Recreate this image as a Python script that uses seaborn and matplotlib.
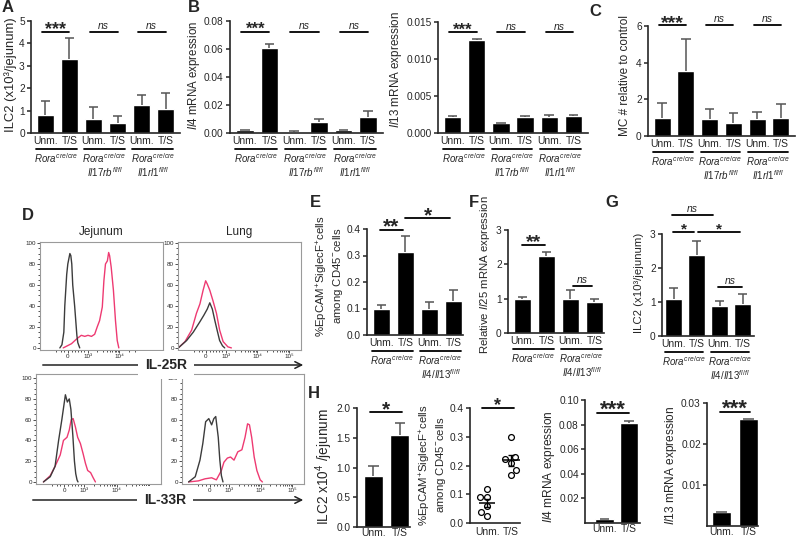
import numpy as np
import pandas as pd
import seaborn as sns
import matplotlib
matplotlib.use("Agg")
import matplotlib.pyplot as plt
from matplotlib.ticker import MultipleLocator, FixedLocator

sns.set_style("ticks")
plt.rcParams["font.family"] = ["Liberation Sans", "DejaVu Sans"]
plt.rcParams["mathtext.fontset"] = "custom"
plt.rcParams["mathtext.rm"] = "Liberation Sans"
plt.rcParams["mathtext.it"] = "Liberation Sans:italic"
plt.rcParams["mathtext.bf"] = "Liberation Sans:bold"

# ---- donnees ----
cond6 = ["Unm.", "T/S", "Unm.", "T/S", "Unm.", "T/S"]
cond4 = cond6[:4]
cond2 = cond6[:2]

a_mean = [0.8, 3.3, 0.62, 0.45, 1.25, 1.05]
a_top = [1.45, 4.25, 1.15, 0.78, 1.68, 1.78]
b_il4_mean = [0.002, 0.061, 0.001, 0.0078, 0.002, 0.0115]
b_il4_top = [0.0024, 0.0635, 0.0013, 0.0099, 0.0023, 0.0155]
b_il13_mean = [0.0022, 0.0126, 0.0013, 0.0022, 0.0022, 0.0023]
b_il13_top = [0.0023, 0.0127, 0.0014, 0.0023, 0.0024, 0.0025]
c_mean = [1.0, 3.55, 0.95, 0.72, 0.95, 1.0]
c_top = [1.8, 5.3, 1.5, 1.28, 1.32, 1.75]
e_mean = [0.1, 0.315, 0.1, 0.13]
e_top = [0.115, 0.375, 0.125, 0.168]
f_mean = [1.0, 2.25, 1.0, 0.9]
f_top = [1.05, 2.35, 1.25, 0.98]
g_mean = [1.1, 2.38, 0.88, 0.93]
g_top = [1.4, 2.8, 1.03, 1.25]
h_ilc2_mean = [0.86, 1.54]
h_ilc2_top = [1.03, 1.75]
h_epcam_unm = [0.025, 0.04, 0.058, 0.089, 0.092, 0.118]
h_epcam_ts = [0.167, 0.185, 0.207, 0.222, 0.228, 0.30]
h_il4_mean = [0.003, 0.081]
h_il4_top = [0.0035, 0.083]
h_il13_mean = [0.0033, 0.026]
h_il13_top = [0.0034, 0.0262]

# histogrammes (x en decades d'affichage, y en % du max)
jej25_black_x = [2.125, 2.19, 2.25, 2.28, 2.34, 2.375, 2.44, 2.47, 2.5, 2.53, 2.59, 2.66, 2.69, 2.75]
jej25_black_y = [0, 3, 15, 40, 70, 80, 90, 88, 80, 60, 40, 12, 5, 0]
jej25_red_x = [2.23, 2.49, 2.67, 2.80, 2.91, 3.01, 3.12, 3.22, 3.30, 3.375, 3.46, 3.51, 3.56, 3.62,
               3.66, 3.69, 3.74, 3.81, 3.875, 3.93, 3.98]
jej25_red_y = [0, 4, 9, 12, 11, 12, 11, 13, 20, 26, 39, 64, 80, 83, 91, 88, 77, 55, 26, 7, 0]
lung25_black_x = [1.51, 1.77, 1.98, 2.19, 2.31, 2.42, 2.5, 2.58, 2.66, 2.73, 2.81, 2.90, 2.97]
lung25_black_y = [0, 7, 15, 25, 31, 37, 43, 37, 26, 17, 7, 2, 0]
lung25_red_x = [1.51, 1.72, 1.93, 2.08, 2.19, 2.29, 2.37, 2.42, 2.5, 2.60, 2.71, 2.81, 2.92, 3.07, 3.18]
lung25_red_y = [0, 6, 17, 33, 42, 55, 64, 61, 55, 45, 33, 17, 6, 1, 0]
jej33_black_x = [1.73, 1.94, 2.09, 2.20, 2.30, 2.41, 2.47, 2.53, 2.58, 2.64, 2.69, 2.73, 2.77, 2.80]
jej33_black_y = [0, 5, 15, 40, 60, 84, 77, 80, 70, 45, 20, 8, 2, 0]
jej33_red_x = [1.73, 1.94, 2.09, 2.25, 2.35, 2.46, 2.53, 2.59, 2.65, 2.72, 2.79, 2.875, 2.96, 3.03,
               3.10, 3.19, 3.27, 3.34]
jej33_red_y = [0, 6, 15, 26, 40, 43, 50, 60, 61, 53, 43, 37, 27, 18, 11, 9, 4, 0]
lung33_black_x = [1.71, 1.92, 2.07, 2.16, 2.25, 2.35, 2.44, 2.51, 2.57, 2.65, 2.70, 2.75, 2.80]
lung33_black_y = [0, 5, 21, 37, 58, 61, 55, 61, 63, 43, 21, 6, 0]
lung33_red_x = [1.71, 2.02, 2.23, 2.44, 2.59, 2.75, 2.83, 2.94, 3.04, 3.15, 3.27, 3.40, 3.5, 3.58,
                3.64, 3.71, 3.79, 3.875, 3.98, 4.05]
lung33_red_y = [0, 1, 3, 4, 2, 11, 19, 23, 24, 21, 29, 31, 43, 56, 55, 43, 24, 11, 2, 0]
hist_tick_pos = [2.375, 3, 4, 5]
hist_tick_lab = ["0", "10³", "10⁴", "10⁵"]

rora = r"$\mathit{Rora}^{\mathit{cre/cre}}$"
grp_abc = [(0, [rora]), (2, [rora, r"$\mathit{Il17rb}^{\mathit{fl/fl}}$"]),
           (4, [rora, r"$\mathit{Il1rl1}^{\mathit{fl/fl}}$"])]
grp_efg = [(0, [rora]), (2, [rora, r"$\mathit{Il4/Il13}^{\mathit{fl/fl}}$"])]

W, H = 800, 541
fig = plt.figure(figsize=(8, 5.41), dpi=100)


def px_axes(rect):
    x0, y0, x1, y1 = rect
    return fig.add_axes([x0 / W, 1 - y1 / H, (x1 - x0) / W, (y1 - y0) / H])


def ftext(x, y, s, **kw):
    fig.text(x / W, 1 - y / H, s, **kw)


def style_ax(ax):
    sns.despine(ax=ax)
    for s in ["left", "bottom"]:
        ax.spines[s].set_linewidth(1.2)
    ax.tick_params(axis="x", length=0, pad=2, labelsize=7.5)
    ax.tick_params(axis="y", length=3, width=1.1, pad=1.5, labelsize=7.3)


def ylab(ax, rect, text, yc, size, pad=1.5):
    ax.set_ylabel(text, fontsize=size, labelpad=pad, linespacing=1.1)
    ax.yaxis.label.set_y(1 - (yc - rect[1]) / (rect[3] - rect[1]))


def bar_panel(rect, labels, means, tops, ylim, yticks, fmt, xlim, width=0.72):
    ax = px_axes(rect)
    df = pd.DataFrame({"pos": np.arange(len(labels)), "val": means, "top": tops})
    sns.barplot(data=df, x="pos", y="val", color="black", saturation=1, width=width,
                errorbar=None, ax=ax)
    # barre d'erreur vers le haut seulement
    ax.vlines(df["pos"], df["val"], df["top"], colors="#555555", lw=1.1)
    ax.hlines(df["top"], df["pos"] - 0.2, df["pos"] + 0.2, colors="#555555", lw=1.1)
    ax.set_xlim(*xlim)
    ax.set_ylim(*ylim)
    ax.set_yticks(yticks)
    ax.set_yticklabels([fmt.format(t) for t in yticks])
    ax.set_xticks(df["pos"])
    ax.set_xticklabels(labels)
    ax.set_xlabel("")
    style_ax(ax)
    return ax


def sig(ax, x0, x1, y, txt, size=13):
    ax.plot([x0, x1], [y, y], color="black", lw=1.3, clip_on=False)
    if txt == "ns":
        ax.annotate("ns", ((x0 + x1) / 2, y), xytext=(0, 2), textcoords="offset points",
                    ha="center", va="baseline", fontsize=7.5, style="italic",
                    annotation_clip=False)
    else:
        ax.annotate(txt, ((x0 + x1) / 2, y), xytext=(0, -0.2 * size + 1),
                    textcoords="offset points", ha="center", va="baseline",
                    fontsize=size, fontweight="bold", annotation_clip=False)


def groups(ax, rect, grp):
    h = rect[3] - rect[1]
    tr = ax.get_xaxis_transform()
    for start, lines in grp:
        ax.plot([start - 0.38, start + 1.3], [-16 / h] * 2, color="black", lw=1.3,
                transform=tr, clip_on=False)
        for k, txt in enumerate(lines):
            ax.text(start + 0.46, -(25 + 14 * k) / h, txt, transform=tr, ha="center",
                    va="center", fontsize=7, clip_on=False)


def hist_panel(rect, xb, yb, xr, yr, ylim, title=None):
    ax = px_axes(rect)
    sns.lineplot(x=xr, y=yr, color="#ee3a72", lw=1, sort=False, estimator=None, ax=ax)
    sns.lineplot(x=xb, y=yb, color="#3c3c3c", lw=1, sort=False, estimator=None, ax=ax)
    ax.set_xlim(1.5, 5.37)
    ax.set_ylim(*ylim)
    ax.set_yticks(range(0, 101, 20))
    ax.yaxis.set_minor_locator(MultipleLocator(5))
    ax.set_xticks(hist_tick_pos)
    ax.set_xticklabels(hist_tick_lab)
    minor = [np.log10(k * 10 ** d) for d in (3, 4) for k in range(2, 10)]
    minor += [2.0, 2.15, 2.25, 2.5, 2.6, 2.7, 2.8, 2.9]
    ax.xaxis.set_minor_locator(FixedLocator(minor))
    for s in ax.spines.values():
        s.set_color("#9a9a9a")
        s.set_linewidth(0.8)
    ax.tick_params(which="both", labelsize=4.5, length=2, width=0.6, pad=1, color="#333333")
    ax.tick_params(which="minor", length=1.2)
    ax.set_xlabel("")
    ax.set_ylabel("")
    if title:
        ax.set_title(title, fontsize=8.5, pad=5)
    return ax


# ---- A ----
rA = (31, 21, 180, 133)
ax = bar_panel(rA, cond6, a_mean, a_top, (0, 5), [0, 1, 2, 3, 4, 5], "{:.0f}", (-0.6, 5.6))
sig(ax, -0.15, 1.0, 4.5, "***", 13)
sig(ax, 1.85, 3.0, 4.5, "ns")
sig(ax, 3.85, 5.0, 4.5, "ns")
groups(ax, rA, grp_abc)
ylab(ax, rA, "ILC2 (x10³/jejunum)", 75, 9.4)

# ---- B ----
rB1 = (230, 21, 383, 133)
ax = bar_panel(rB1, cond6, b_il4_mean, b_il4_top, (0, 0.08), [0, 0.02, 0.04, 0.06, 0.08],
               "{:.2f}", (-0.6, 5.6))
sig(ax, -0.15, 1.0, 0.072, "***", 12)
sig(ax, 1.85, 3.0, 0.072, "ns")
sig(ax, 3.85, 5.0, 0.072, "ns")
groups(ax, rB1, grp_abc)
ylab(ax, rB1, r"$\mathit{Il4}$ mRNA expression", 75, 8.3)

rB2 = (438, 22, 588, 133)
ax = bar_panel(rB2, cond6, b_il13_mean, b_il13_top, (0, 0.015), [0, 0.005, 0.010, 0.015],
               "{:.3f}", (-0.6, 5.6))
sig(ax, -0.15, 1.0, 0.0136, "***", 12)
sig(ax, 1.85, 3.0, 0.0136, "ns")
sig(ax, 3.85, 5.0, 0.0136, "ns")
groups(ax, rB2, grp_abc)
ylab(ax, rB2, r"$\mathit{Il13}$ mRNA expression", 70, 8.4)

# ---- C ----
rC = (648, 26, 795, 136)
ax = bar_panel(rC, cond6, c_mean, c_top, (0, 6), [0, 2, 4, 6], "{:.0f}", (-0.6, 5.6))
sig(ax, -0.15, 1.0, 6.05, "***", 14)
sig(ax, 1.85, 3.0, 6.05, "ns")
sig(ax, 3.85, 5.0, 6.05, "ns")
groups(ax, rC, grp_abc)
ylab(ax, rC, "MC # relative to control", 76, 8.5, pad=4)

# ---- D ----
hist_panel((40, 242, 163, 350), jej25_black_x, jej25_black_y, jej25_red_x, jej25_red_y,
           (-2, 101), "Jejunum")
hist_panel((178, 242, 301, 350), lung25_black_x, lung25_black_y, lung25_red_x, lung25_red_y,
           (-2, 101), "Lung")
hist_panel((36, 374, 161, 484), jej33_black_x, jej33_black_y, jej33_red_x, jej33_red_y,
           (-2, 104))
hist_panel((182, 374, 304, 484), lung33_black_x, lung33_black_y, lung33_red_x, lung33_red_y,
           (-2, 104))
for y, x0, xc, lab in [(365, 40, 166, "IL-25R"), (500, 30, 165, "IL-33R")]:
    fig.add_artist(matplotlib.patches.FancyArrowPatch(
        (x0 / W, 1 - y / H), (306 / W, 1 - y / H), transform=fig.transFigure,
        arrowstyle="->", mutation_scale=12, lw=1.1, color="#222222"))
    ftext(xc, y, lab, ha="center", va="center", fontsize=10, fontweight="bold",
          bbox=dict(facecolor="white", edgecolor="none", pad=5))

# ---- E ----
rE = (367, 229, 463, 335)
ax = bar_panel(rE, cond4, e_mean, e_top, (0, 0.4), [0, 0.1, 0.2, 0.3, 0.4], "{:.1f}",
               (-0.6, 3.4))
sig(ax, -0.06, 0.9, 0.396, "**", 15)
sig(ax, 0.98, 2.86, 0.44, "*", 15)
groups(ax, rE, grp_efg)
ylab(ax, rE, "%EpCAM$^{+}$SiglecF$^{+}$cells\namong CD45$^{-}$cells", 276, 8.2)

# ---- F ----
rF = (508, 230, 604, 333)
ax = bar_panel(rF, cond4, f_mean, f_top, (0, 3), [0, 1, 2, 3], "{:.0f}", (-0.6, 3.4))
sig(ax, -0.02, 0.94, 2.57, "**", 14)
sig(ax, 2.1, 2.9, 1.37, "ns")
groups(ax, rF, grp_efg)
ylab(ax, rF, r"Relative $\mathit{Il25}$ mRNA expression", 275, 8.2, pad=3)

# ---- G ----
rG = (662, 234, 754, 336)
ax = bar_panel(rG, cond4, g_mean, g_top, (0, 3), [0, 1, 2, 3], "{:.0f}", (-0.5, 3.5))
sig(ax, -0.02, 0.89, 3.06, "*", 11)
sig(ax, 1.07, 2.89, 3.06, "*", 11)
sig(ax, -0.07, 1.72, 3.56, "ns")
sig(ax, 1.93, 2.98, 1.44, "ns")
groups(ax, rG, grp_efg)
ylab(ax, rG, "ILC2 (x10³/jejunum)", 283, 8.2, pad=4)

# ---- H ----
rH1 = (357, 408, 410, 527)
ax = bar_panel(rH1, cond2, h_ilc2_mean, h_ilc2_top, (0, 2.0), [0, 0.5, 1.0, 1.5, 2.0],
               "{:.1f}", (-0.62, 1.38))
ax.tick_params(axis="x", pad=1)
sig(ax, -0.13, 1.08, 1.93, "*", 15)
ylab(ax, rH1, "ILC2 x10$^{4}$ /jejunum", 467, 9.8)

rH2 = (470, 408, 520, 523)
ax = px_axes(rH2)
df_h2 = pd.DataFrame({"cond": ["Unm."] * len(h_epcam_unm) + ["T/S"] * len(h_epcam_ts),
                      "val": h_epcam_unm + h_epcam_ts})
sns.swarmplot(data=df_h2, x="cond", y="val", order=cond2, color="white", edgecolor="black",
              linewidth=0.9, size=4.2, ax=ax, zorder=3)
for i, vals in enumerate([h_epcam_unm, h_epcam_ts]):
    m = np.mean(vals)
    sem = np.std(vals, ddof=1) / np.sqrt(len(vals))
    ax.hlines(m, i - 0.35, i + 0.35, color="black", lw=1.1, zorder=4)
    ax.errorbar(i, m, yerr=sem, fmt="none", ecolor="black", elinewidth=1, capsize=2.5, zorder=4)
ax.set_xlim(-0.71, 1.37)
ax.set_ylim(0, 0.4)
ax.set_yticks([0, 0.1, 0.2, 0.3, 0.4])
ax.set_yticklabels(["0.0", "0.1", "0.2", "0.3", "0.4"])
ax.set_xlabel("")
style_ax(ax)
ax.tick_params(axis="x", pad=3)
sig(ax, -0.22, 1.1, 0.4, "*", 13)
ylab(ax, rH2, "%EpCAM$^{+}$SiglecF$^{+}$cells\namong CD45$^{-}$cells", 465, 8.2)

rH3 = (585, 400, 640, 523)
ax = bar_panel(rH3, cond2, h_il4_mean, h_il4_top, (0, 0.10), [0.02, 0.04, 0.06, 0.08, 0.10],
               "{:.2f}", (-0.8, 1.45), width=0.75)
ax.tick_params(axis="x", pad=1)
sig(ax, -0.3, 1.0, 0.0894, "***", 16)
ylab(ax, rH3, r"$\mathit{Il4}$ mRNA expression", 467, 8.6)

rH4 = (707, 403, 758, 526)
ax = bar_panel(rH4, cond2, h_il13_mean, h_il13_top, (0, 0.03), [0.01, 0.02, 0.03], "{:.2f}",
               (-0.54, 1.35), width=0.72)
ax.tick_params(axis="x", pad=1)
sig(ax, -0.05, 1.06, 0.0278, "***", 16)
ylab(ax, rH4, r"$\mathit{Il13}$ mRNA expression", 465, 8.6)

# ---- lettres ----
for lab, x, y in [("A", 8, 8), ("B", 194, 8), ("C", 595, 12), ("D", 28, 216),
                  ("E", 315, 202), ("F", 474, 202), ("G", 612, 202), ("H", 314, 394)]:
    ftext(x, y, lab, ha="center", va="center", fontsize=12, fontweight="bold")

fig.savefig("out.png", dpi=100)
